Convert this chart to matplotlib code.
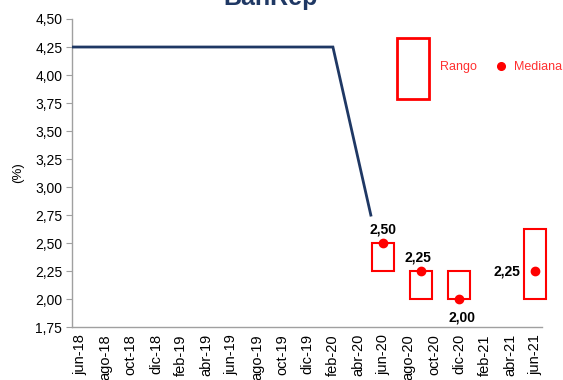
import matplotlib
matplotlib.use('Agg')
import matplotlib.pyplot as plt
from matplotlib.patches import Rectangle
from matplotlib.lines import Line2D

# monthly axis, jun-18 .. jun-21 (labels every two months)
axis_months = ['jun-18', 'jul-18', 'ago-18', 'sep-18', 'oct-18', 'nov-18', 'dic-18',
               'ene-19', 'feb-19', 'mar-19', 'abr-19', 'may-19', 'jun-19', 'jul-19',
               'ago-19', 'sep-19', 'oct-19', 'nov-19', 'dic-19', 'ene-20', 'feb-20',
               'mar-20', 'abr-20', 'may-20', 'jun-20', 'jul-20', 'ago-20', 'sep-20',
               'oct-20', 'nov-20', 'dic-20', 'ene-21', 'feb-21', 'mar-21', 'abr-21',
               'may-21', 'jun-21']
tick_labels = axis_months[::2]

# policy rate (line), starting one month before the axis
policy_months = ['may-18'] + axis_months[:24]
policy_rate = [4.25, 4.25, 4.25, 4.25, 4.25, 4.25, 4.25, 4.25, 4.25, 4.25, 4.25,
               4.25, 4.25, 4.25, 4.25, 4.25, 4.25, 4.25, 4.25, 4.25, 4.25, 4.25,
               3.75, 3.25, 2.75]

# survey expectations
survey_months = ['jun-20', 'sep-20', 'dic-20', 'jun-21']
survey_low = [2.25, 2.00, 2.00, 2.00]
survey_high = [2.50, 2.25, 2.25, 2.63]
survey_median = [2.50, 2.25, 2.00, 2.25]


def pos(m):
    if m == 'may-18':
        return -1
    return axis_months.index(m)


plt.rcParams['font.family'] = ['Liberation Sans', 'DejaVu Sans']
fig = plt.figure(figsize=(5.63, 3.80), dpi=100)
ax = fig.add_axes([0.128, 0.139, 0.835, 0.811])

navy = '#1F3864'
red = '#FF0000'

ax.plot([pos(m) for m in policy_months], policy_rate, color=navy, lw=2.0,
        solid_joinstyle='miter', clip_on=True, zorder=3)

half = 0.87
for m, lo, hi, med in zip(survey_months, survey_low, survey_high, survey_median):
    x = pos(m)
    ax.add_patch(Rectangle((x - half, lo), 2 * half, hi - lo, fill=False,
                           edgecolor=red, lw=1.5, clip_on=False, zorder=4))
    ax.plot(x, med, 'o', color=red, ms=6, clip_on=False, zorder=5)

lbl = dict(fontsize=10, fontweight='bold', color='black')
ax.annotate('2,50', (pos('jun-20'), survey_high[0]), xytext=(0, 5),
            textcoords='offset points', ha='center', va='bottom', **lbl)
ax.annotate('2,25', (pos('sep-20') - 0.3, survey_high[1]), xytext=(0, 5),
            textcoords='offset points', ha='center', va='bottom', **lbl)
ax.annotate('2,00', (pos('dic-20') + 0.2, survey_low[2]), xytext=(0, -8),
            textcoords='offset points', ha='center', va='top', **lbl)
ax.annotate('2,25', (pos('jun-21') - half, survey_median[3]), xytext=(-3, 0),
            textcoords='offset points', ha='right', va='center', **lbl)

ax.set_xlim(-0.63, 36.55)
ax.set_ylim(1.75, 4.50)
ax.set_xticks(range(0, len(axis_months), 2))
ax.set_xticklabels(tick_labels, rotation=90, fontsize=10.5)
yt = [1.75, 2.00, 2.25, 2.50, 2.75, 3.00, 3.25, 3.50, 3.75, 4.00, 4.25, 4.50]
ax.set_yticks(yt)
ax.set_yticklabels([f'{v:.2f}'.replace('.', ',') for v in yt], fontsize=10)
ax.tick_params(axis='x', length=0, pad=5)
ax.tick_params(axis='y', length=4, color='#A0A0A0', pad=3)
for s in ['top', 'right']:
    ax.spines[s].set_visible(False)
for s in ['left', 'bottom']:
    ax.spines[s].set_color('#A0A0A0')
    ax.spines[s].set_linewidth(1.0)
ax.set_ylabel('(%)', fontsize=9.5, labelpad=8)

# legend drawn by hand
ax.add_patch(Rectangle((0.691, 0.740), 0.069, 0.198, transform=ax.transAxes,
                       fill=False, edgecolor=red, lw=2, clip_on=False))
ax.text(0.783, 0.844, 'Rango', transform=ax.transAxes, color='#FF3030',
        fontsize=9, va='center', ha='left')
ax.add_line(Line2D([0.913], [0.847], transform=ax.transAxes, marker='o',
                   color=red, ms=5.5, clip_on=False))
ax.text(0.940, 0.844, 'Mediana', transform=ax.transAxes, color='#FF3030',
        fontsize=9, va='center', ha='left')

fig.text(0.48, 1 - 5 / 380, 'BanRep', ha='center', va='baseline',
         fontsize=18, fontweight='bold', color=navy)

fig.savefig('out.png', dpi=100)
